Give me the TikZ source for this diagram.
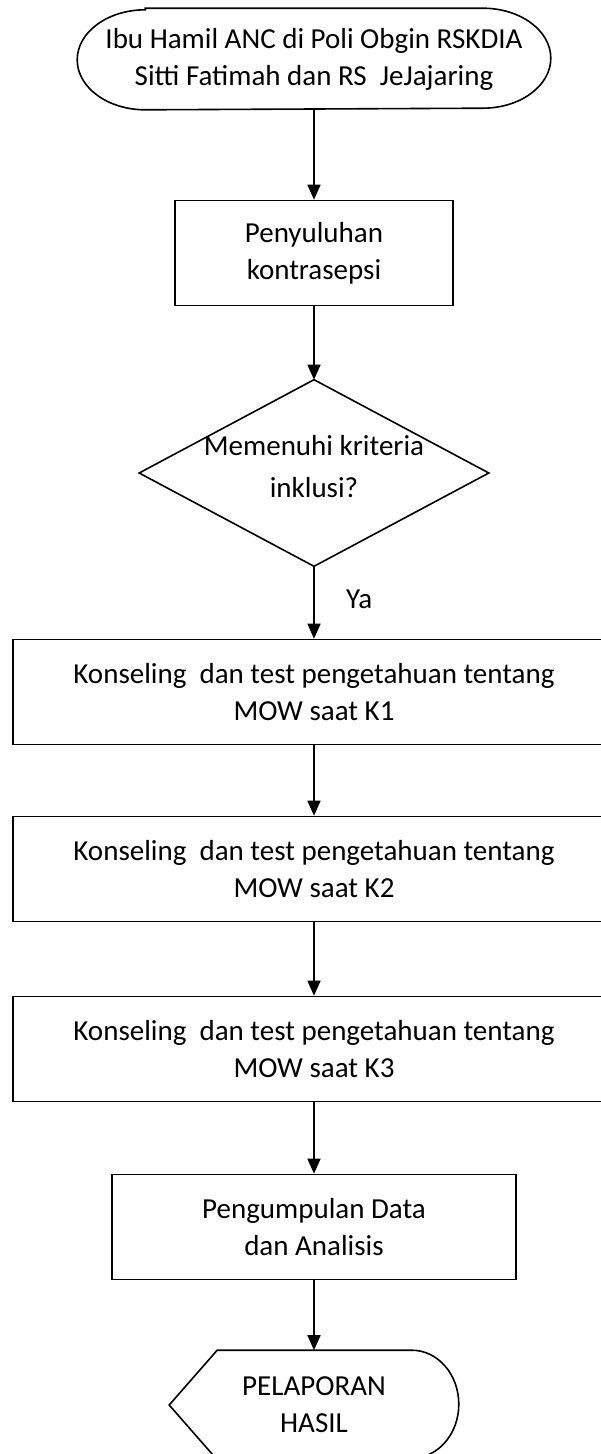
\documentclass[tikz,border=0pt]{standalone}
\usepackage{fontspec}
\setmainfont{Carlito}
\usetikzlibrary{arrows.meta}

\tikzset{
	stepbox/.style={draw, align=center, inner sep=0pt, minimum height=105pt},
	bare/.style={align=center, inner sep=0pt},
}

\begin{document}
\begin{tikzpicture}[x=1pt, y=1pt, >={Triangle[length=15pt, width=13pt]}, line width=1.6pt, font=\fontsize{29}{37}\selectfont]
		\useasboundingbox (0,0) rectangle (601,-1454);
		\node[bare, minimum width=472pt, minimum height=100pt] (ibu) at (314,-59) {Ibu Hamil ANC di Poli Obgin RSKDIA\\Sitti Fatimah dan RS~~JeJajaring};
		\draw ([xshift=68pt]ibu.north west) -- ([xshift=-68pt]ibu.north east) arc[start angle=90, end angle=-90, x radius=68pt, y radius=50pt] -- ([xshift=68pt]ibu.south west) arc[start angle=270, end angle=90, x radius=68pt, y radius=50pt] -- cycle;
		\node[stepbox, minimum width=278pt] (penyuluhan) at (314,-253) {Penyuluhan\\kontrasepsi};
		\node[bare, minimum width=348pt, minimum height=185pt, text depth=14pt, font=\fontsize{29}{42}\selectfont] (kriteria) at (314,-473) {Memenuhi kriteria\\inklusi?};
		\draw (kriteria.north) -- (kriteria.east) -- (kriteria.south) -- (kriteria.west) -- cycle;
		\node[stepbox, minimum width=602pt] (k1) at (314,-692) {Konseling~~dan test pengetahuan tentang\\MOW saat K1};
		\node[stepbox, minimum width=602pt] (k2) at (314,-869) {Konseling~~dan test pengetahuan tentang\\MOW saat K2};
		\node[stepbox, minimum width=602pt] (k3) at (314,-1049) {Konseling~~dan test pengetahuan tentang\\MOW saat K3};
		\node[stepbox, minimum width=404pt] (data) at (314,-1227) {Pengumpulan Data\\dan Analisis};
		\node[bare, minimum width=288pt, minimum height=108pt] (hasil) at (314,-1405) {PELAPORAN\\HASIL};
		\draw ([xshift=48pt]hasil.north west) -- ([xshift=-47pt]hasil.north east) arc[start angle=90, end angle=-90, x radius=47pt, y radius=54pt] -- ([xshift=48pt]hasil.south west) -- (hasil.west) -- cycle;
		\draw[->] (ibu.south) -- (penyuluhan.north);
		\draw[->] (penyuluhan.south) -- (kriteria.north);
		\draw[->] (kriteria.south) -- node[pos=0.45, right=28pt] {Ya} (k1.north);
		\draw[->] (k1.south) -- (k2.north);
		\draw[->] (k2.south) -- (k3.north);
		\draw[->] (k3.south) -- (data.north);
		\draw[->] (data.south) -- (hasil.north);
	\end{tikzpicture}
\end{document}
